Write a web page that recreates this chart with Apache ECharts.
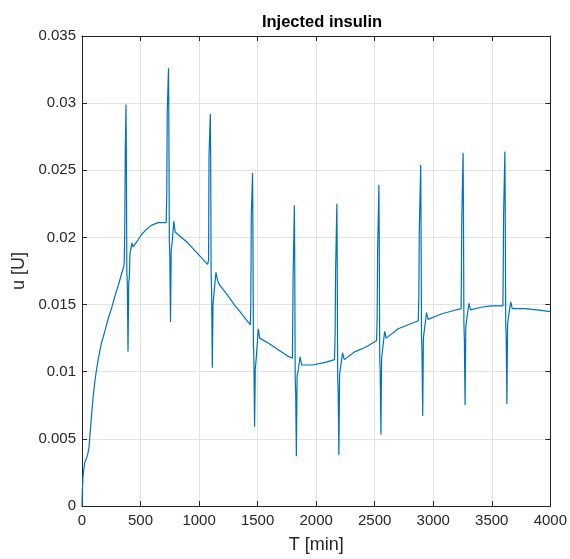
<!DOCTYPE html>
<html>
<head>
<meta charset="utf-8">
<script src="https://cdn.jsdelivr.net/npm/echarts@6/dist/echarts.min.js"></script>
<style>html,body{margin:0;padding:0;background:#fff;}#c{width:570px;height:559px;}</style>
</head>
<body>
<div id="c"></div>
<script>
const titleText = 'Injected insulin';
const xName = 'T [min]';
const yName = 'u [U]';
const xTicks = [0, 500, 1000, 1500, 2000, 2500, 3000, 3500, 4000];
const yTicks = [0, 0.005, 0.01, 0.015, 0.02, 0.025, 0.03, 0.035];

const tMin = [
  0,3,8,15,25,40,50,60,70,82,95,110,125,140,165,195,225,252,280,309,335,359,
  361,365,370,376,379,383,387,393,399,404,410,427,437,444,470,507,550,592,648,719,
  724,728,739,742,746,750,756,762,770,784,796,805,850,903,988,1073,1079,
  1081,1085,1096,1099,1103,1107,1113,1119,1127,1144,1158,1172,1243,1300,1356,1400,1438,
  1442,1446,1457,1460,1464,1468,1474,1480,1488,1506,1518,1530,1597,1682,1750,1797,
  1799,1803,1814,1817,1821,1825,1831,1837,1845,1863,1876,1890,1965,2078,2157,
  2162,2166,2177,2180,2184,2188,2194,2200,2208,2226,2240,2252,2333,2418,2516,
  2521,2525,2536,2539,2543,2547,2553,2559,2567,2585,2598,2612,2701,2786,2872,
  2877,2881,2893,2896,2900,2904,2910,2916,2924,2943,2956,2970,3068,3153,3238,
  3240,3244,3255,3258,3262,3266,3272,3278,3286,3305,3318,3332,3408,3493,3595,
  3597,3601,3612,3615,3619,3623,3629,3635,3643,3662,3675,3690,3777,3890,4000
];
const uInsulin = [
  0,0.0012,0.0021,0.0027,0.0033,0.0036,0.0039,0.0044,0.0055,0.0068,0.0081,0.0093,0.0102,0.0110,0.0121,0.0130,0.0140,0.0147,0.0156,0.0164,0.0172,0.0179,
  0.0184,0.0204,0.0266,0.0299,0.0259,0.0174,0.0166,0.0115,0.0166,0.0170,0.0188,0.0196,0.0193,0.0193,0.0197,0.0202,0.0206,0.0209,0.0211,0.0211,
  0.0232,0.0293,0.0326,0.0282,0.0197,0.0186,0.0137,0.0191,0.0196,0.0212,0.0204,0.0204,0.0200,0.0196,0.0188,0.0180,0.0179,
  0.0183,0.0261,0.0292,0.0259,0.0172,0.0160,0.0103,0.0150,0.0158,0.0174,0.0168,0.0165,0.0157,0.0150,0.0144,0.0139,0.0135,
  0.0153,0.0216,0.0248,0.0204,0.0120,0.0110,0.0059,0.0102,0.0110,0.0132,0.0125,0.0124,0.0121,0.0116,0.0112,0.0110,
  0.0130,0.0170,0.0224,0.0180,0.0095,0.0085,0.0037,0.0097,0.0100,0.0111,0.0105,0.0105,0.0105,0.0107,0.0109,
  0.0128,0.0175,0.0225,0.0181,0.0095,0.0085,0.0038,0.0098,0.0103,0.0114,0.0109,0.0109,0.0115,0.0118,0.0123,
  0.0141,0.0190,0.0239,0.0196,0.0110,0.0100,0.0053,0.0110,0.0116,0.0130,0.0125,0.0125,0.0132,0.0135,0.0138,
  0.0156,0.0205,0.0254,0.0210,0.0126,0.0115,0.0067,0.0125,0.0131,0.0144,0.0139,0.0139,0.0143,0.0145,0.0147,
  0.0165,0.0215,0.0263,0.0220,0.0135,0.0124,0.0075,0.0133,0.0139,0.0151,0.0146,0.0146,0.0148,0.0149,0.0149,
  0.0167,0.0217,0.0264,0.0221,0.0137,0.0126,0.0076,0.0135,0.0141,0.0152,0.0147,0.0146,0.0147,0.0146,0.01447
];

const data = tMin.map((t, i) => [t, uInsulin[i]]);
const font = 'Liberation Sans, Arial, Helvetica, sans-serif';
const axisCol = '#262626';
const gridCol = '#e3e3e3';

const chart = echarts.init(document.getElementById('c'), null, {renderer: 'canvas'});
const baseX = {
  type: 'value', min: xTicks[0], max: xTicks[xTicks.length - 1], interval: 500,
  axisLine: {show: true, onZero: false, lineStyle: {color: axisCol, width: 1}},
  axisTick: {show: true, inside: true, length: 5, lineStyle: {color: axisCol}},
};
const baseY = {
  type: 'value', min: yTicks[0], max: yTicks[yTicks.length - 1], interval: 0.005,
  axisLine: {show: true, onZero: false, lineStyle: {color: axisCol, width: 1}},
  axisTick: {show: true, inside: true, length: 5, lineStyle: {color: axisCol}},
};
chart.setOption({
  animation: false,
  backgroundColor: '#ffffff',
  title: {
    text: titleText, left: 317, top: 9, textAlign: 'center',
    textStyle: {fontFamily: font, fontSize: 16.5, fontWeight: 'bold', color: '#000'}
  },
  grid: {left: 82, right: 17, top: 36, bottom: 51, containLabel: false},
  xAxis: [
    Object.assign({}, baseX, {
      position: 'bottom', name: xName, nameLocation: 'middle', nameGap: 30,
      nameTextStyle: {fontFamily: font, fontSize: 18, color: axisCol},
      axisLabel: {fontFamily: font, fontSize: 15, color: axisCol, margin: 7,
        formatter: v => String(v)},
      splitLine: {show: true, lineStyle: {color: gridCol, width: 1}}
    }),
    Object.assign({}, baseX, {
      position: 'top', axisLabel: {show: false}, splitLine: {show: false}
    })
  ],
  yAxis: [
    Object.assign({}, baseY, {
      position: 'left', name: yName, nameLocation: 'middle', nameGap: 51,
      nameTextStyle: {fontFamily: font, fontSize: 18, color: axisCol},
      axisLabel: {fontFamily: font, fontSize: 15, color: axisCol, margin: 6,
        formatter: v => String(+v.toFixed(3))},
      splitLine: {show: true, lineStyle: {color: gridCol, width: 1}}
    }),
    Object.assign({}, baseY, {
      position: 'right', axisLabel: {show: false}, splitLine: {show: false}
    })
  ],
  series: [{
    type: 'line', data: data, xAxisIndex: 0, yAxisIndex: 0,
    showSymbol: false, symbol: 'none',
    lineStyle: {color: '#0072BD', width: 1.2},
    z: 5
  }]
});
</script>
</body>
</html>
